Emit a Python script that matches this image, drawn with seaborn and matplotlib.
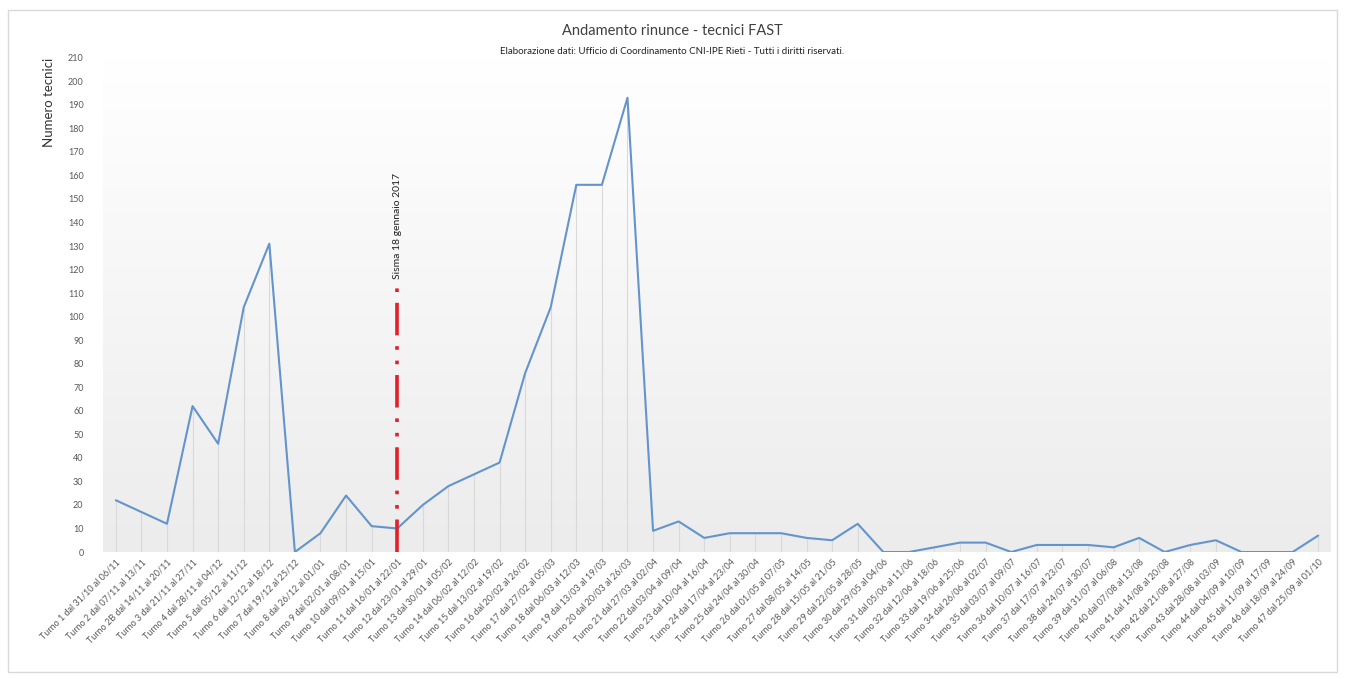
import numpy as np
import pandas as pd
import seaborn as sns
import matplotlib.pyplot as plt
from matplotlib.patches import Rectangle

# --- data ---
turni = [
    "Turno 1 dal 31/10 al 06/11", "Turno 2 dal 07/11 al 13/11", "Turno 2B dal 14/11 al 20/11",
    "Turno 3 dal 21/11 al 27/11", "Turno 4 dal 28/11 al 04/12", "Turno 5 dal 05/12 al 11/12",
    "Turno 6 dal 12/12 al 18/12", "Turno 7 dal 19/12 al 25/12", "Turno 8 dal 26/12 al 01/01",
    "Turno 9 dal 02/01 al 08/01", "Turno 10 dal 09/01 al 15/01", "Turno 11 dal 16/01 al 22/01",
    "Turno 12 dal 23/01 al 29/01", "Turno 13 dal 30/01 al 05/02", "Turno 14 dal 06/02 al 12/02",
    "Turno 15 dal 13/02 al 19/02", "Turno 16 dal 20/02 al 26/02", "Turno 17 dal 27/02 al 05/03",
    "Turno 18 dal 06/03 al 12/03", "Turno 19 dal 13/03 al 19/03", "Turno 20 dal 20/03 al 26/03",
    "Turno 21 dal 27/03 al 02/04", "Turno 22 dal 03/04 al 09/04", "Turno 23 dal 10/04 al 16/04",
    "Turno 24 dal 17/04 al 23/04", "Turno 25 dal 24/04 al 30/04", "Turno 26 dal 01/05 al 07/05",
    "Turno 27 dal 08/05 al 14/05", "Turno 28 dal 15/05 al 21/05", "Turno 29 dal 22/05 al 28/05",
    "Turno 30 dal 29/05 al 04/06", "Turno 31 dal 05/06 al 11/06", "Turno 32 dal 12/06 al 18/06",
    "Turno 33 dal 19/06 al 25/06", "Turno 34 dal 26/06 al 02/07", "Turno 35 dal 03/07 al 09/07",
    "Turno 36 dal 10/07 al 16/07", "Turno 37 dal 17/07 al 23/07", "Turno 38 dal 24/07 al 30/07",
    "Turno 39 dal 31/07 al 06/08", "Turno 40 dal 07/08 al 13/08", "Turno 41 dal 14/08 al 20/08",
    "Turno 42 dal 21/08 al 27/08", "Turno 43 dal 28/08 al 03/09", "Turno 44 dal 04/09 al 10/09",
    "Turno 45 dal 11/09 al 17/09", "Turno 46 dal 18/09 al 24/09", "Turno 47 dal 25/09 al 01/10",
]
rinunce = [22, 17, 12, 62, 46, 104, 131, 0, 8, 24, 11, 10,
           20, 28, 33, 38, 76, 104, 156, 156, 193, 9, 13, 6,
           8, 8, 8, 6, 5, 12, 0, 0, 2, 4, 4, 0,
           3, 3, 3, 2, 6, 0, 3, 5, 0, 0, 0, 7]
sisma_turno = 11
sisma_label = "Sisma 18 gennaio 2017"
sisma_height = 113

df = pd.DataFrame({"pos": np.arange(len(turni)), "turno": turni, "tecnici": rinunce})

sns.set_theme(style="white")
plt.rcParams["font.family"] = ["Lato", "DejaVu Sans"]

fig = plt.figure(figsize=(13.45, 6.79), dpi=100)
ax = fig.add_axes([0.0766, 0.187, 0.913, 0.728])

# soft vertical gradient behind the plot
grad = np.linspace(0, 1, 256).reshape(-1, 1)
ax.imshow(grad, extent=[0, 1, 0, 1], transform=ax.transAxes, aspect="auto",
          cmap=plt.cm.colors.LinearSegmentedColormap.from_list("bg", ["#ececec", "#ffffff"]),
          origin="lower", zorder=0)

# drop lines
ax.vlines(df["pos"], 0, df["tecnici"], color="#d9d9d9", linewidth=0.8, zorder=1)

sns.lineplot(data=df, x="pos", y="tecnici", color="#6394cc", linewidth=1.5, ax=ax, zorder=3)

# event line
ax.plot([sisma_turno, sisma_turno], [0, sisma_height], color="#e0202a", linewidth=2.6,
        dashes=(9, 3, 1.0, 3, 1.0, 3), zorder=4)
ax.text(sisma_turno, sisma_height + 3, sisma_label, rotation=90, ha="center", va="bottom",
        fontsize=7.5, color="#222222")

ax.set_xlim(-0.5, len(turni) - 0.5)
ax.set_ylim(0, 210)
ax.set_yticks(range(0, 211, 10))
ax.tick_params(axis="y", labelsize=6.5, labelcolor="#595959", length=0, pad=14)
ax.set_xticks(df["pos"])
ax.set_xticklabels(turni, rotation=45, ha="right", rotation_mode="anchor",
                   fontsize=6.5, color="#595959")
ax.tick_params(axis="x", length=0, pad=4)
ax.set_xlabel("")
ax.set_ylabel("Numero tecnici", loc="top", fontsize=9.5, color="#333333", labelpad=9)
for s in ax.spines.values():
    s.set_visible(False)
ax.grid(False)

fig.text(0.5, 0.954, "Andamento rinunce - tecnici FAST", ha="center", va="center",
         fontsize=10.5, color="#404040")
fig.text(0.5, 0.924, "Elaborazione dati: Ufficio di Coordinamento CNI-IPE Rieti - Tutti i diritti riservati.",
         ha="center", va="center", fontsize=7, color="#222222")

fig.patches.append(Rectangle((0.006, 0.01), 0.988, 0.975, transform=fig.transFigure,
                             fill=False, edgecolor="#d9d9d9", linewidth=1))

fig.savefig("out.png", dpi=100)
